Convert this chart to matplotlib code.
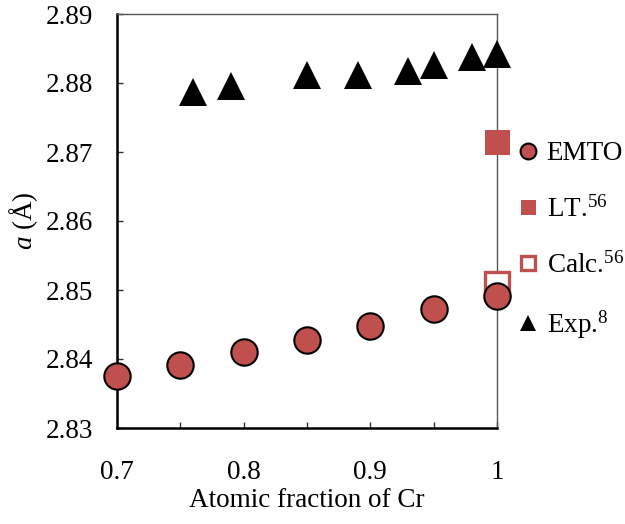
import matplotlib
matplotlib.use("Agg")
import matplotlib.pyplot as plt
from matplotlib.ticker import MultipleLocator, FuncFormatter

plt.rcParams['font.family'] = ['Liberation Serif', 'DejaVu Serif']
plt.rcParams['mathtext.fontset'] = 'custom'
plt.rcParams['mathtext.rm'] = 'Liberation Serif'
plt.rcParams['mathtext.it'] = 'Liberation Serif:italic'

# Data
emto_x = [0.70, 0.75, 0.80, 0.85, 0.90, 0.95, 1.00]
emto_y = [2.8375, 2.8391, 2.8410, 2.8427, 2.8448, 2.8472, 2.8491]
lt_x = [1.00]
lt_y = [2.8714]
calc_x = [1.00]
calc_y = [2.8508]
exp_x = [0.76, 0.79, 0.85, 0.89, 0.93, 0.95, 0.98, 1.00]
exp_y = [2.8787, 2.8796, 2.8812, 2.8812, 2.8818, 2.8826, 2.8837, 2.8842]

labels = ["EMTO", "LT.$^{56}$", "Calc.$^{56}$", "Exp.$^{8}$"]
red = "#C0504D"
fs = 19.5

fig = plt.figure(figsize=(6.25, 5.24), dpi=100)
ax = fig.add_axes([117/625, 1 - 428/524, (497 - 117)/625, (428 - 14)/524])

l_lt, = ax.plot(lt_x, lt_y, linestyle='none', marker='s', ms=18, mfc=red, mec=red, mew=0, clip_on=False, zorder=3)
l_calc, = ax.plot(calc_x, calc_y, linestyle='none', marker='s', ms=17, mfc='white', mec=red, mew=2.4, clip_on=False, zorder=3)
l_emto, = ax.plot(emto_x, emto_y, linestyle='none', marker='o', ms=19, mfc=red, mec='black', mew=1.5, clip_on=False, zorder=4)
l_exp, = ax.plot(exp_x, exp_y, linestyle='none', marker='^', ms=19.5, mfc='black', mec='black', mew=0, clip_on=False, zorder=3)

ax.set_xlim(0.7, 1.0)
ax.set_ylim(2.83, 2.89)
ax.xaxis.set_major_locator(MultipleLocator(0.05))
ax.yaxis.set_major_locator(MultipleLocator(0.01))

def xfmt(v, pos):
    k = round(v * 100)
    if k % 10 != 0:
        return ""
    return "1" if k == 100 else f"{v:.1f}"

ax.xaxis.set_major_formatter(FuncFormatter(xfmt))
ax.yaxis.set_major_formatter(FuncFormatter(lambda v, p: f"{v:.2f}"))

ax.tick_params(axis='both', direction='in', length=4, width=1, labelsize=fs, color='#333333')
ax.tick_params(axis='x', pad=23, top=False)
ax.tick_params(axis='y', pad=17, right=False)

for s in ['left', 'bottom']:
    ax.spines[s].set_linewidth(1.8)
    ax.spines[s].set_color('black')
for s in ['top', 'right']:
    ax.spines[s].set_linewidth(1.0)
    ax.spines[s].set_color('#555555')

ax.set_xlabel("Atomic fraction of Cr", fontsize=fs, labelpad=2)
ax.set_ylabel("$a$ (Å)", fontsize=fs, labelpad=4)

fig.legend([l_emto, l_lt, l_calc, l_exp], labels,
           loc='upper left', bbox_to_anchor=(515.5/625, 1 - 141/524),
           frameon=False, fontsize=fs, markerscale=0.6,
           handlelength=0.95, handletextpad=0.2, labelspacing=1.1,
           borderpad=0, borderaxespad=0)

fig.savefig("out.png", dpi=100)
